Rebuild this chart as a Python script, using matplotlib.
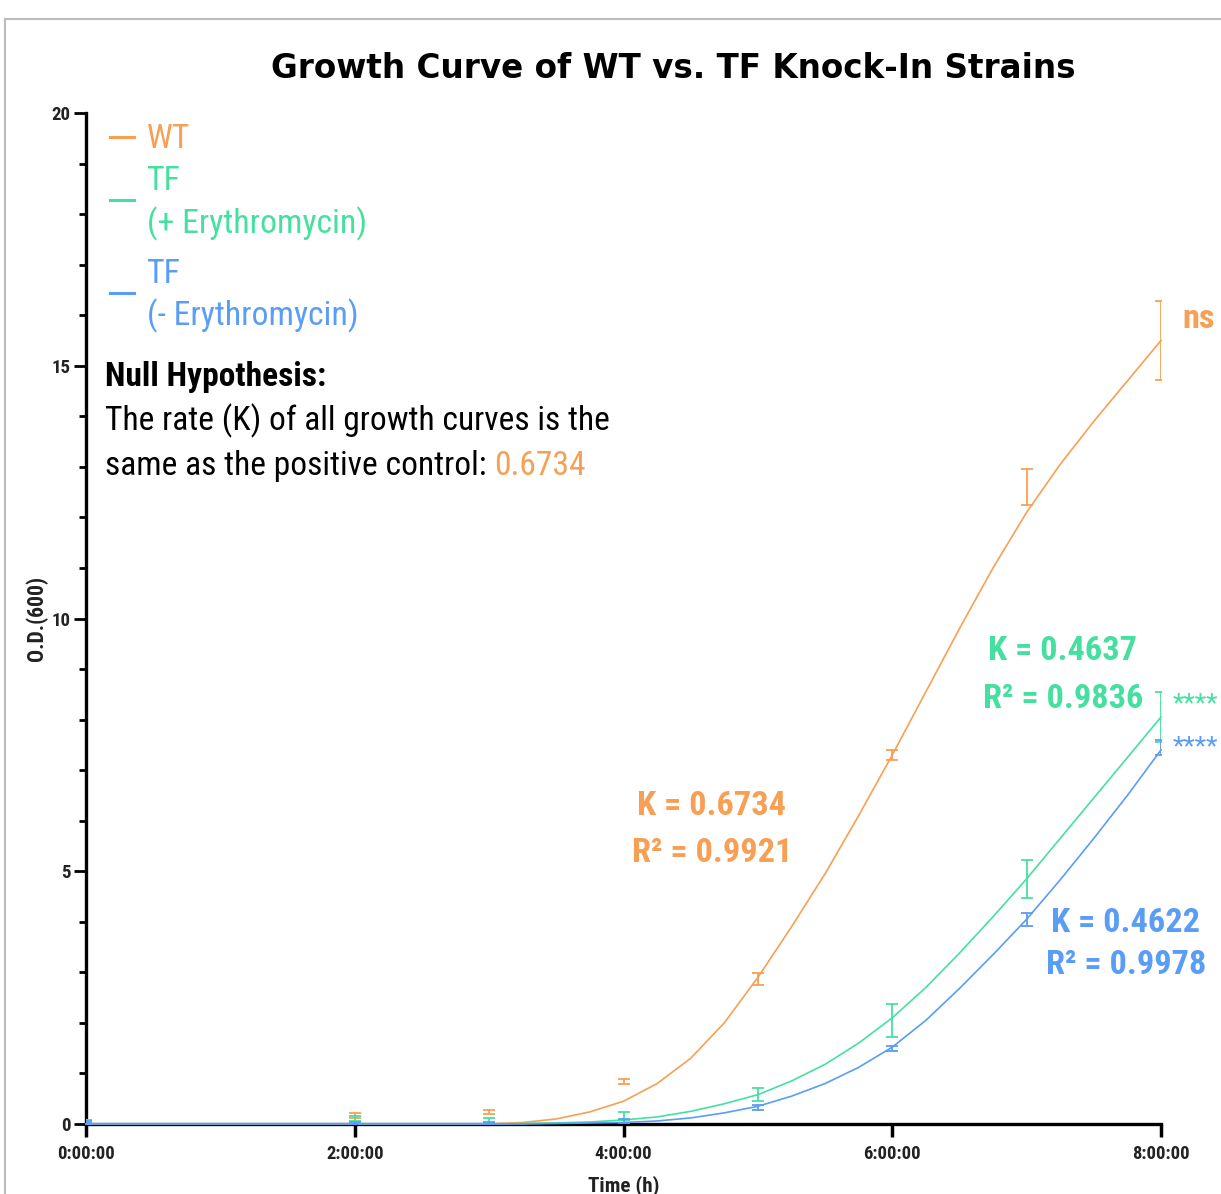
import matplotlib
matplotlib.use('Agg')
import matplotlib.pyplot as plt
from matplotlib import font_manager
from matplotlib.lines import Line2D

# data
time_pts = [0, 2, 3, 4, 5, 6, 7, 8]
wt_mean = [0.05, 0.17, 0.24, 0.85, 2.87, 7.3, 12.6, 15.5]
wt_err = [0.03, 0.05, 0.04, 0.05, 0.12, 0.1, 0.35, 0.78]
tfp_mean = [0.05, 0.1, 0.07, 0.15, 0.58, 2.05, 4.85, 8.05]
tfp_err = [0.03, 0.05, 0.05, 0.08, 0.13, 0.33, 0.37, 0.5]
tfn_mean = [0.03, 0.02, 0.02, 0.06, 0.33, 1.5, 4.05, 7.45]
tfn_err = [0.02, 0.02, 0.02, 0.04, 0.05, 0.05, 0.13, 0.15]

# fitted curves, read at quarter hours
fit_t = [0, 3.0, 3.25, 3.5, 3.75, 4.0, 4.25, 4.5, 4.75, 5.0, 5.25, 5.5, 5.75,
         6.0, 6.25, 6.5, 6.75, 7.0, 7.25, 7.5, 7.75, 8.0]
wt_fit = [0, 0, 0.03, 0.1, 0.24, 0.45, 0.8, 1.3, 2.0, 2.9, 3.9, 4.95, 6.1,
          7.3, 8.55, 9.8, 11.0, 12.1, 13.05, 13.9, 14.7, 15.5]
tfp_fit = [0, 0, 0.01, 0.02, 0.04, 0.08, 0.14, 0.25, 0.4, 0.58, 0.85, 1.18, 1.6,
           2.1, 2.7, 3.38, 4.1, 4.85, 5.65, 6.45, 7.25, 8.05]
tfn_fit = [0, 0, 0, 0.01, 0.02, 0.03, 0.06, 0.12, 0.22, 0.35, 0.55, 0.8, 1.12,
           1.52, 2.05, 2.68, 3.35, 4.05, 4.83, 5.65, 6.5, 7.4]

x_ticks = [0, 2, 4, 6, 8]
x_labels = ["0:00:00", "2:00:00", "4:00:00", "6:00:00", "8:00:00"]
y_ticks = [0, 5, 10, 15, 20]

orange = '#F7A055'
green = '#45E0A0'
blue = '#5A9DF5'

# look for a narrow sans font, otherwise plain Liberation Sans
fonts = font_manager.fontManager.ttflist
names = {f.name for f in fonts}
FAM, STRETCH = ['Liberation Sans', 'DejaVu Sans'], 'normal'
for n in ['Liberation Sans Narrow', 'Arial Narrow', 'Roboto Condensed', 'Open Sans Condensed']:
    if n in names:
        FAM = [n, 'DejaVu Sans']
        break
else:
    for n in ['Noto Sans', 'Roboto', 'Open Sans']:
        if any(f.name == n and f.stretch in ('condensed', 'semi-condensed', 600) for f in fonts):
            FAM, STRETCH = [n, 'DejaVu Sans'], 'condensed'
            break
TK = dict(family=FAM, fontstretch=STRETCH)

W, H = 1221, 1194


def fx(x):
    return x / W


def fy(y):
    return 1 - y / H


fig = plt.figure(figsize=(W / 100, H / 100), dpi=100)
r = fig.canvas.get_renderer()


def fit_size(txt, target, size, **kw):
    # font size that gives the text the width it has in the reference
    t = fig.text(0, 0, txt, fontsize=size, **kw)
    w = t.get_window_extent(r).width
    t.remove()
    return size * target / w


ax = fig.add_axes([fx(86), fy(1124), (1161 - 86) / W, (1124 - 113) / H])

# fit lines
for ys, c in [(wt_fit, orange), (tfp_fit, green), (tfn_fit, blue)]:
    ax.plot(fit_t, ys, color=c, lw=1.2, clip_on=False, zorder=3, solid_joinstyle='round')

# error bars
for m, e, c in [(wt_mean, wt_err, orange), (tfp_mean, tfp_err, green), (tfn_mean, tfn_err, blue)]:
    ax.errorbar(time_pts, m, yerr=e, fmt='none', ecolor=c, elinewidth=1.3,
                capsize=4.5, capthick=1.3, zorder=4)

xt_size = fit_size("0:00:00", 57, 14, fontweight='bold', **TK)
yt_size = fit_size("20", 19, 12, fontweight='bold', **TK)

ax.set_xlim(0, 8)
ax.set_ylim(0, 20)
ax.set_xticks(x_ticks)
ax.set_xticklabels(x_labels, fontweight='bold', color='#222222', fontsize=xt_size, **TK)
ax.set_yticks(y_ticks)
ax.set_yticklabels([str(v) for v in y_ticks], fontweight='bold', color='#222222',
                   fontsize=yt_size, **TK)
ax.set_yticks(range(21), minor=True)
ax.tick_params(axis='y', which='major', length=9, width=2, pad=2)
ax.tick_params(axis='y', which='minor', length=5, width=2)
ax.tick_params(axis='x', length=9, width=2.5, pad=6)
for s in ['top', 'right']:
    ax.spines[s].set_visible(False)
for s in ['left', 'bottom']:
    ax.spines[s].set_linewidth(2.4)
ax.patch.set_alpha(0)

fig.text(fx(624), fy(1186), "Time (h)", fontweight='bold',
         fontsize=fit_size("Time (h)", 72, 14, fontweight='bold', **TK),
         ha='center', va='center', color='#222222', **TK)
fig.text(fx(37), fy(618), "O.D.(600)", fontweight='bold',
         fontsize=fit_size("O.D.(600)", 85, 10, fontweight='bold', **TK),
         ha='center', va='center', rotation=90, color='#222222', **TK)

# title, scaled to the reference width
title_txt = "Growth Curve of WT vs. TF Knock-In Strains"
fig.text(fx(673), fy(78), title_txt, family='DejaVu Sans', fontweight='bold',
         fontsize=fit_size(title_txt, 804, 29, family='DejaVu Sans', fontweight='bold'),
         ha='center', va='baseline')

# thin grey frame around the figure
fig.add_artist(Line2D([fx(5), fx(5)], [fy(19), 0], color='#bbbbbb', lw=1.5))
fig.add_artist(Line2D([fx(5), 1], [fy(19), fy(19)], color='#bbbbbb', lw=1.5))

# legend
leg_size = fit_size("(+ Erythromycin)", 220, 26, **TK)
for yl, c in [(137, orange), (200, green), (293, blue)]:
    fig.add_artist(Line2D([fx(110), fx(134)], [fy(yl), fy(yl)], color=c, lw=2.2))
for txt, yb, c in [("WT", 148, orange), ("TF", 190, green), ("(+ Erythromycin)", 233, green),
                   ("TF", 283, blue), ("(- Erythromycin)", 325, blue)]:
    fig.text(fx(147), fy(yb), txt, fontsize=leg_size, color=c, va='baseline', **TK)

# null hypothesis
nh_size = fit_size("The rate (K) of all growth curves is the", 505, 26, **TK)
fig.text(fx(105), fy(386), "Null Hypothesis:", fontsize=nh_size, fontweight='bold',
         va='baseline', color='black', **TK)
fig.text(fx(105), fy(430), "The rate (K) of all growth curves is the",
         fontsize=nh_size, va='baseline', color='black', **TK)
t3 = fig.text(fx(105), fy(475), "same as the positive control: ",
              fontsize=nh_size, va='baseline', color='black', **TK)
x_end = t3.get_window_extent(r).x1
fig.text(x_end / W, fy(475), "0.6734", fontsize=nh_size, va='baseline', color=orange, **TK)

# fit annotations
k_size = fit_size("K = 0.6734", 149, 27, fontweight='bold', **TK)
for txt, x, yb, c in [("K = 0.6734", 637, 815, orange), ("R\u00b2 = 0.9921", 632, 862, orange),
                      ("K = 0.4637", 988, 660, green), ("R\u00b2 = 0.9836", 983, 708, green),
                      ("K = 0.4622", 1051, 932, blue), ("R\u00b2 = 0.9978", 1046, 974, blue),
                      ("ns", 1182, 328, orange)]:
    fig.text(fx(x), fy(yb), txt, fontsize=k_size, fontweight='bold',
             va='baseline', color=c, **TK)
star_size = fit_size("****", 45, 16, **TK)
fig.text(fx(1173), fy(704), "****", fontsize=star_size, va='center', color=green, **TK)
fig.text(fx(1173), fy(747), "****", fontsize=star_size, va='center', color=blue, **TK)

fig.savefig('out.png', dpi=100)
